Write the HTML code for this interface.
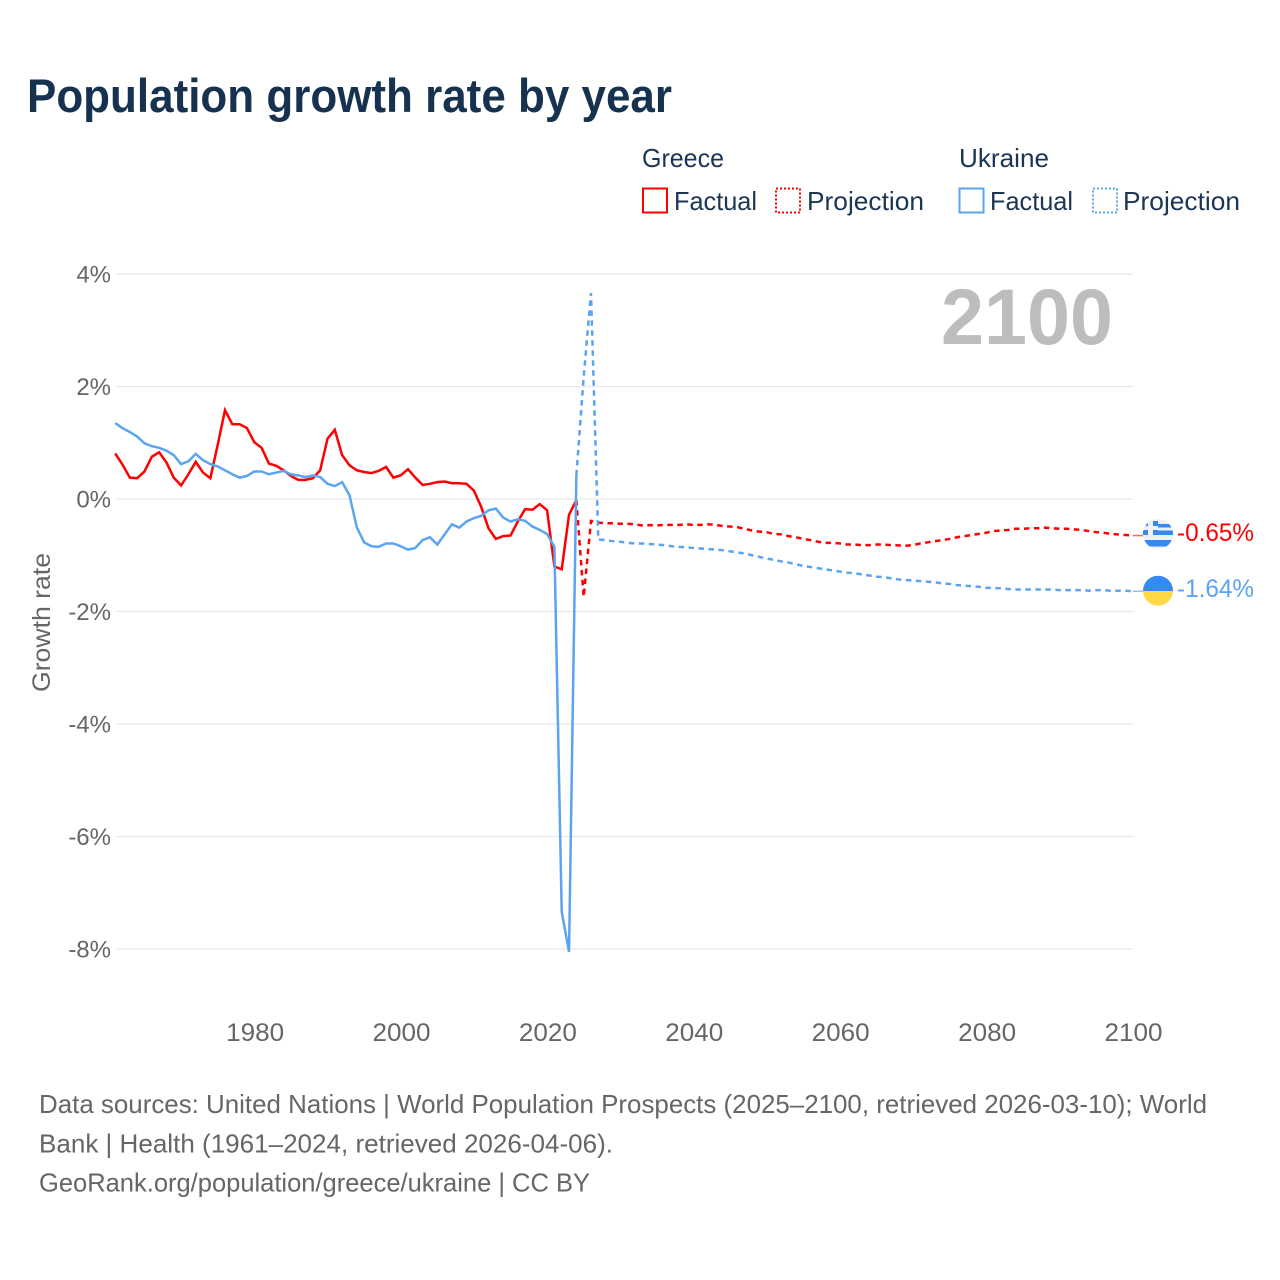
<!DOCTYPE html>
<html lang="en">
<head>
<meta charset="utf-8">
<title>Population growth rate by year</title>
<style>
html,body{margin:0;padding:0;background:#fff;}
svg{display:block;}
text{font-family:"Liberation Sans",sans-serif;}
</style>
</head>
<body>
<svg id="chart" xmlns="http://www.w3.org/2000/svg" width="1280" height="1280" viewBox="0 0 1280 1280">
  <defs>
    <clipPath id="flag-clip-gr"><circle cx="1158" cy="534" r="15"/></clipPath>
    <clipPath id="flag-clip-ua"><circle cx="1158" cy="590.7" r="15"/></clipPath>
  </defs>
  <rect width="1280" height="1280" fill="#fff"/>
  <text x="27" y="112" font-size="47" font-weight="700" fill="#17324f" textLength="645" lengthAdjust="spacingAndGlyphs">Population growth rate by year</text>

  <g font-size="26" fill="#1b3555">
    <text x="642" y="167" textLength="82" lengthAdjust="spacingAndGlyphs">Greece</text>
    <rect x="643" y="188.500" width="24" height="24" fill="none" stroke="#ff0000" stroke-width="2"/>
    <text x="674" y="210" textLength="83" lengthAdjust="spacingAndGlyphs">Factual</text>
    <rect x="776" y="188.500" width="24" height="24" fill="none" stroke="#ff0000" stroke-width="2" stroke-dasharray="2,2"/>
    <text x="807" y="210" textLength="117" lengthAdjust="spacingAndGlyphs">Projection</text>
    <text x="959" y="167" textLength="90" lengthAdjust="spacingAndGlyphs">Ukraine</text>
    <rect x="959.500" y="188.500" width="24" height="24" fill="none" stroke="#5ba4f0" stroke-width="2"/>
    <text x="990" y="210" textLength="83" lengthAdjust="spacingAndGlyphs">Factual</text>
    <rect x="1093" y="188.500" width="24" height="24" fill="none" stroke="#5ba4f0" stroke-width="2" stroke-dasharray="2,2"/>
    <text x="1123" y="210" textLength="117" lengthAdjust="spacingAndGlyphs">Projection</text>
  </g>

  <g id="grid"></g>
  <g id="y-ticks"></g>
  <g id="x-ticks"></g>
  <text transform="translate(50,692) rotate(-90)" x="0" y="0" font-size="25" fill="#666" textLength="139" lengthAdjust="spacingAndGlyphs">Growth rate</text>
  <text x="941" y="344" font-size="79" font-weight="700" fill="#bdbdbd" textLength="172" lengthAdjust="spacingAndGlyphs">2100</text>

  <g id="series"></g>

  <g clip-path="url(#flag-clip-gr)">
    <rect x="1143" y="519" width="30" height="30" fill="#f0f0f0"/>
    <rect x="1143" y="524" width="30" height="3.500" fill="#338af3"/>
    <rect x="1143" y="530.500" width="30" height="4.500" fill="#338af3"/>
    <rect x="1143" y="540" width="30" height="6.500" fill="#338af3"/>
    <rect x="1143" y="521" width="15" height="14" fill="#338af3"/>
    <rect x="1148" y="519" width="5" height="16" fill="#f0f0f0"/>
    <rect x="1143" y="526" width="15" height="4" fill="#f0f0f0"/>
  </g>
  <g clip-path="url(#flag-clip-ua)">
    <rect x="1143" y="575.700" width="30" height="15.300" fill="#338af3"/>
    <rect x="1143" y="591" width="30" height="15" fill="#ffda44"/>
  </g>
  <text x="1177" y="541" font-size="25" fill="#ff0000" textLength="77" lengthAdjust="spacingAndGlyphs">-0.65%</text>
  <text x="1177" y="597" font-size="25" fill="#5ba4f0" textLength="77" lengthAdjust="spacingAndGlyphs">-1.64%</text>

  <g font-size="26" fill="#666">
    <text x="39" y="1113" textLength="1168" lengthAdjust="spacingAndGlyphs">Data sources: United Nations | World Population Prospects (2025–2100, retrieved 2026-03-10); World</text>
    <text x="39" y="1152.500" textLength="574" lengthAdjust="spacingAndGlyphs">Bank | Health (1961–2024, retrieved 2026-04-06).</text>
    <text x="39" y="1191.500" textLength="551" lengthAdjust="spacingAndGlyphs">GeoRank.org/population/greece/ukraine | CC BY</text>
  </g>
</svg>
<script>
const yTickValues = [4, 2, 0, -2, -4, -6, -8];
const xTickYears = [1980, 2000, 2020, 2040, 2060, 2080, 2100];

const factualStartYear = 1961;
const projectionStartYear = 2024;

const greeceFactual = [0.81,0.61,0.38,0.37,0.49,0.75,0.83,0.65,0.38,0.24,0.44,0.66,0.47,0.37,0.96,1.58,1.33,1.33,1.26,1.01,0.91,0.63,0.59,0.51,0.41,0.34,0.34,0.37,0.51,1.07,1.23,0.78,0.60,0.51,0.48,0.46,0.50,0.57,0.38,0.42,0.53,0.38,0.25,0.27,0.30,0.31,0.28,0.28,0.27,0.15,-0.14,-0.52,-0.71,-0.66,-0.65,-0.40,-0.18,-0.19,-0.09,-0.20,-1.20,-1.25,-0.28,-0.02];

const ukraineFactual = [1.35,1.26,1.19,1.11,0.99,0.94,0.91,0.86,0.78,0.62,0.67,0.80,0.69,0.62,0.58,0.51,0.44,0.38,0.41,0.49,0.49,0.44,0.47,0.50,0.44,0.42,0.39,0.42,0.39,0.27,0.23,0.30,0.07,-0.50,-0.77,-0.84,-0.85,-0.79,-0.79,-0.84,-0.90,-0.87,-0.73,-0.68,-0.81,-0.63,-0.45,-0.51,-0.40,-0.34,-0.30,-0.20,-0.17,-0.33,-0.40,-0.36,-0.39,-0.49,-0.55,-0.62,-0.85,-7.34,-8.05,0.42];

const greeceProjection = [-0.02,-1.74,-0.39,-0.42,-0.43,-0.43,-0.44,-0.44,-0.45,-0.47,-0.465,-0.47,-0.46,-0.46,-0.46,-0.45,-0.46,-0.46,-0.45,-0.46,-0.48,-0.49,-0.50,-0.53,-0.56,-0.58,-0.59,-0.62,-0.63,-0.66,-0.68,-0.71,-0.73,-0.76,-0.78,-0.78,-0.79,-0.81,-0.81,-0.82,-0.82,-0.81,-0.81,-0.82,-0.825,-0.83,-0.82,-0.79,-0.77,-0.75,-0.73,-0.71,-0.68,-0.66,-0.64,-0.62,-0.60,-0.57,-0.56,-0.55,-0.53,-0.53,-0.52,-0.52,-0.51,-0.52,-0.53,-0.53,-0.54,-0.55,-0.57,-0.59,-0.60,-0.62,-0.63,-0.64,-0.65];

const ukraineProjection = [0.42,2.17,3.66,-0.72,-0.73,-0.75,-0.76,-0.78,-0.79,-0.79,-0.80,-0.81,-0.82,-0.84,-0.85,-0.86,-0.87,-0.88,-0.89,-0.90,-0.91,-0.93,-0.95,-0.97,-1.00,-1.03,-1.06,-1.08,-1.11,-1.13,-1.16,-1.19,-1.21,-1.23,-1.25,-1.27,-1.29,-1.31,-1.32,-1.34,-1.36,-1.38,-1.39,-1.41,-1.43,-1.44,-1.45,-1.46,-1.47,-1.48,-1.50,-1.51,-1.53,-1.54,-1.55,-1.56,-1.58,-1.58,-1.59,-1.60,-1.61,-1.61,-1.61,-1.61,-1.61,-1.61,-1.62,-1.62,-1.62,-1.62,-1.63,-1.62,-1.62,-1.63,-1.63,-1.63,-1.64];

const SVGNS = 'http://www.w3.org/2000/svg';
function xScale(year) { return 115.2 + (year - 1961) * 7.32; }
function yScale(v) { return 499 - v * 56.25; }
function make(tag, parentId) {
  const el = document.createElementNS(SVGNS, tag);
  document.getElementById(parentId).appendChild(el);
  return el;
}
function pathFrom(values, startYear) {
  return values.map(function (v, i) {
    return (i ? 'L' : 'M') + xScale(startYear + i).toFixed(2) + ' ' + yScale(v).toFixed(2);
  }).join(' ');
}

yTickValues.forEach(function (v) {
  const line = make('line', 'grid');
  
  
  line.setAttribute('x1', 116);
  line.setAttribute('x2', 1133);
  line.setAttribute('y1', yScale(v));
  line.setAttribute('y2', yScale(v));
  line.setAttribute('stroke', '#e8e8e8');
  line.setAttribute('stroke-width', 1.300);

  const label = make('text', 'y-ticks');
  
  
  label.setAttribute('x', 111);
  label.setAttribute('y', yScale(v) + 8.500);
  label.setAttribute('text-anchor', 'end');
  label.setAttribute('font-size', 24);
  label.setAttribute('fill', '#666');
  label.textContent = v + '%';
});

xTickYears.forEach(function (year) {
  const label = make('text', 'x-ticks');
  
  
  label.setAttribute('x', xScale(year) + 0.800);
  label.setAttribute('y', 1041);
  label.setAttribute('text-anchor', 'middle');
  label.setAttribute('font-size', 25);
  label.setAttribute('textLength', 58);
  label.setAttribute('lengthAdjust', 'spacingAndGlyphs');
  label.setAttribute('fill', '#666');
  label.textContent = String(year);
});

const greeceProjLine = make('path', 'series');


greeceProjLine.setAttribute('d', pathFrom(greeceProjection, projectionStartYear));
greeceProjLine.setAttribute('fill', 'none');
greeceProjLine.setAttribute('stroke', '#ff0000');
greeceProjLine.setAttribute('stroke-width', 2.500);
greeceProjLine.setAttribute('stroke-dasharray', '5.500,4.500');

const greeceLine = make('path', 'series');


greeceLine.setAttribute('d', pathFrom(greeceFactual, factualStartYear));
greeceLine.setAttribute('fill', 'none');
greeceLine.setAttribute('stroke', '#ff0000');
greeceLine.setAttribute('stroke-width', 2.500);

const ukraineProjLine = make('path', 'series');


ukraineProjLine.setAttribute('d', pathFrom(ukraineProjection, projectionStartYear));
ukraineProjLine.setAttribute('fill', 'none');
ukraineProjLine.setAttribute('stroke', '#5ba4f0');
ukraineProjLine.setAttribute('stroke-width', 2.500);
ukraineProjLine.setAttribute('stroke-dasharray', '5.500,4.500');

const ukraineLine = make('path', 'series');


ukraineLine.setAttribute('d', pathFrom(ukraineFactual, factualStartYear));
ukraineLine.setAttribute('fill', 'none');
ukraineLine.setAttribute('stroke', '#5ba4f0');
ukraineLine.setAttribute('stroke-width', 2.500);

const greeceConnector = make('line', 'series');


greeceConnector.setAttribute('x1', xScale(2100));
greeceConnector.setAttribute('x2', 1143);
greeceConnector.setAttribute('y1', yScale(greeceProjection[greeceProjection.length - 1]));
greeceConnector.setAttribute('y2', yScale(greeceProjection[greeceProjection.length - 1]));
greeceConnector.setAttribute('stroke', '#ff6666');
greeceConnector.setAttribute('stroke-width', 1.500);

const ukraineConnector = make('line', 'series');


ukraineConnector.setAttribute('x1', xScale(2100));
ukraineConnector.setAttribute('x2', 1143);
ukraineConnector.setAttribute('y1', yScale(ukraineProjection[ukraineProjection.length - 1]));
ukraineConnector.setAttribute('y2', yScale(ukraineProjection[ukraineProjection.length - 1]));
ukraineConnector.setAttribute('stroke', '#8fc0f5');
ukraineConnector.setAttribute('stroke-width', 1.500);
</script>
</body>
</html>
